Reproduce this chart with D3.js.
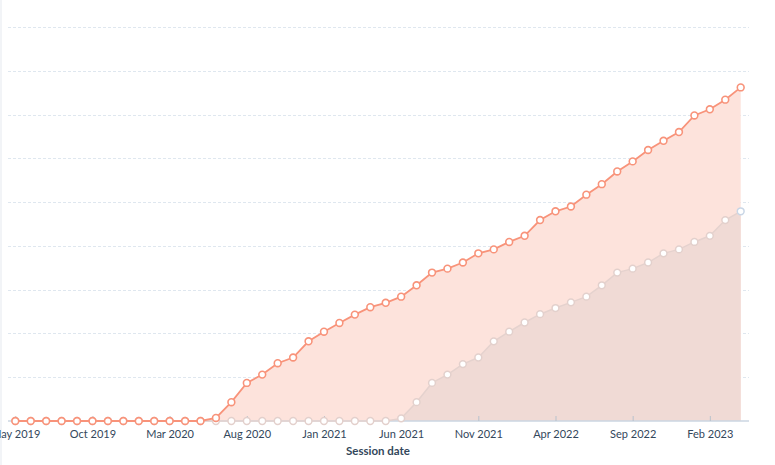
<!DOCTYPE html>
<html>
<head>
<meta charset="utf-8">
<script src="https://cdn.jsdelivr.net/npm/d3@7"></script>
<style>
  html, body { margin: 0; padding: 0; background: #fff; }
  svg { display: block; }
  text { font-family: Lato, "Noto Sans", sans-serif; }
</style>
</head>
<body>
<svg id="chart" width="775" height="465"></svg>
<script>
const months = [
  "May 2019","Jun 2019","Jul 2019","Aug 2019","Sep 2019","Oct 2019","Nov 2019","Dec 2019",
  "Jan 2020","Feb 2020","Mar 2020","Apr 2020","May 2020","Jun 2020","Jul 2020","Aug 2020",
  "Sep 2020","Oct 2020","Nov 2020","Dec 2020","Jan 2021","Feb 2021","Mar 2021","Apr 2021",
  "May 2021","Jun 2021","Jul 2021","Aug 2021","Sep 2021","Oct 2021","Nov 2021","Dec 2021",
  "Jan 2022","Feb 2022","Mar 2022","Apr 2022","May 2022","Jun 2022","Jul 2022","Aug 2022",
  "Sep 2022","Oct 2022","Nov 2022","Dec 2022","Jan 2023","Feb 2023","Mar 2023","Apr 2023"
];
const currentValues = [
  0, 0, 0, 0, 0, 0, 0, 0, 0, 0, 0, 0, 0, 0.7, 4.3, 8.7,
  10.6, 13.2, 14.5, 18.2, 20.4, 22.4, 24.3, 26.0, 27.0, 28.4, 31.0, 33.9, 34.8, 36.2, 38.3, 39.2,
  40.9, 42.3, 45.9, 47.9, 49.0, 51.7, 54.1, 57.0, 59.3, 61.9, 64.0, 66.0, 69.8, 71.2, 73.4, 76.2
];
const previousValues = [
  0, 0, 0, 0, 0, 0, 0, 0, 0, 0, 0, 0, 0, 0, 0, 0,
  0, 0, 0, 0, 0, 0, 0, 0, 0, 0.6, 4.3, 8.7, 10.6, 13.0, 14.5, 18.2,
  20.4, 22.5, 24.4, 25.8, 27.1, 28.4, 31.0, 33.9, 34.8, 36.2, 38.3, 39.2, 40.9, 42.3, 45.9, 47.9
];
const tickLabels = ["May 2019","Oct 2019","Mar 2020","Aug 2020","Jan 2021","Jun 2021","Nov 2021","Apr 2022","Sep 2022","Feb 2023"];
const gridValues = [10, 20, 30, 40, 50, 60, 70, 80, 90];
const xTitle = "Session date";

const svg = d3.select("#chart");
const x = d3.scalePoint().domain(months).range([15.3, 740.7]);
const y = d3.scaleLinear().domain([0, 90]).range([421, 27]);
const plotLeft = 8, plotRight = 749;

// left border
svg.append("line").attr("x1", 1).attr("x2", 1).attr("y1", 0).attr("y2", 465)
  .attr("stroke", "#eef1f5").attr("stroke-width", 1.5);

// gridlines
svg.append("g").selectAll("line").data(gridValues).join("line")
  .attr("x1", plotLeft).attr("x2", plotRight)
  .attr("y1", d => Math.round(y(d)) + 0.5).attr("y2", d => Math.round(y(d)) + 0.5)
  .attr("stroke", "#dfe7ef").attr("stroke-width", 1).attr("stroke-dasharray", "3,2");

const currData = months.map((m, i) => ({ m, v: currentValues[i] }));
const prevData = months.map((m, i) => ({ m, v: previousValues[i] }));

const area = d3.area().x(d => x(d.m)).y0(y(0)).y1(d => y(d.v));
const line = d3.line().x(d => x(d.m)).y(d => y(d.v));

svg.append("path").datum(currData).attr("d", area).attr("fill", "#fde3dc");
svg.append("path").datum(prevData).attr("d", area).attr("fill", "#f0dad5");

// axis line
svg.append("line").attr("x1", plotLeft).attr("x2", plotRight).attr("y1", 421).attr("y2", 421)
  .attr("stroke", "#cbd6e2").attr("stroke-width", 1.5);

// axis ticks + labels
const xAxis = d3.axisBottom(x).tickValues(tickLabels).tickSize(0).tickPadding(0);
const ax = svg.append("g").attr("transform", "translate(0,421)").call(xAxis);
ax.select(".domain").remove();
ax.selectAll(".tick line").remove();
ax.selectAll(".tick").append("line").attr("y1", -5).attr("y2", 0)
  .attr("stroke", "#b8c2cc").attr("stroke-width", 1);
ax.selectAll(".tick text").attr("y", 17).attr("dy", "0")
  .attr("fill", "#33475b").attr("font-size", "11px")
  .attr("font-family", "Lato, 'Noto Sans', sans-serif");

// previous line + points
svg.append("path").datum(prevData).attr("d", line).attr("fill", "none")
  .attr("stroke", "#e5d2ce").attr("stroke-width", 1.5);
svg.append("g").selectAll("circle").data(prevData).join("circle")
  .attr("cx", d => x(d.m)).attr("cy", d => y(d.v)).attr("r", 3.4)
  .attr("fill", "#fff")
  .attr("stroke", (d, i) => i === prevData.length - 1 ? "#c9d6e6" : "#e3d0cc")
  .attr("stroke-width", 1.5);

// current line + points
svg.append("path").datum(currData).attr("d", line).attr("fill", "none")
  .attr("stroke", "#f8937a").attr("stroke-width", 1.8);
svg.append("g").selectAll("circle").data(currData).join("circle")
  .attr("cx", d => x(d.m)).attr("cy", d => y(d.v)).attr("r", 3.4)
  .attr("fill", "#fff").attr("stroke", "#f8937a").attr("stroke-width", 1.6);

// axis title
svg.append("text").attr("x", 378).attr("y", 455).attr("text-anchor", "middle")
  .attr("font-size", "11.5px").attr("font-weight", "bold").attr("fill", "#33475b")
  .text(xTitle);
</script>
</body>
</html>
